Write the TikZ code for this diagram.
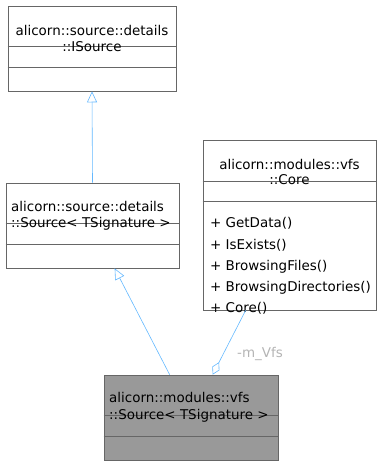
\documentclass[tikz,border=0pt]{standalone}
\usepackage{fontspec}
\setmainfont{DejaVu Sans}
\usetikzlibrary{arrows.meta}

\definecolor{edgeblue}{HTML}{63B8FF}
\definecolor{boxline}{HTML}{666666}
\definecolor{boxfill}{HTML}{999999}
\definecolor{labelgrey}{HTML}{B4B4B4}

\tikzset{
  classbox/.style={rectangle, draw=boxline, line width=0.7pt, inner sep=0pt},
  txt/.style={inner sep=0pt, font=\fontsize{13.45}{15}\selectfont},
  inherit/.style={draw=edgeblue, line width=0.6pt,
    -{Triangle[open, length=11pt, width=10pt, fill=white]}},
  aggr/.style={draw=edgeblue, line width=0.6pt,
    {Diamond[open, length=14pt, width=8pt, fill=white]}-}
}

\begin{document}
\begin{tikzpicture}[x=1pt,y=-1pt]
\useasboundingbox (0,0) rectangle (381,465);

% class boxes
\node[classbox, minimum width=168pt, minimum height=85pt] (isrc) at (92,48.5) {};
\node[classbox, minimum width=173pt, minimum height=85pt] (src) at (92.5,225.5) {};
\node[classbox, minimum width=173pt, minimum height=170pt] (core) at (289.5,225) {};
\node[classbox, fill=boxfill, minimum width=174pt, minimum height=85pt] (vsrc) at (191,417.5) {};

% compartments
\draw[boxline, line width=0.7pt] (isrc.west |- 0,46) -- (isrc.east |- 0,46);
\draw[boxline, line width=0.7pt] (isrc.west |- 0,67) -- (isrc.east |- 0,67);
\draw[boxline, line width=0.7pt] (src.west |- 0,223) -- (src.east |- 0,223);
\draw[boxline, line width=0.7pt] (src.west |- 0,244) -- (src.east |- 0,244);
\draw[boxline, line width=0.7pt] (core.west |- 0,181) -- (core.east |- 0,181);
\draw[boxline, line width=0.7pt] (core.west |- 0,201) -- (core.east |- 0,201);
\draw[boxline, line width=0.7pt] (vsrc.west |- 0,415) -- (vsrc.east |- 0,415);
\draw[boxline, line width=0.7pt] (vsrc.west |- 0,436) -- (vsrc.east |- 0,436);

% names
\node[txt, anchor=mid] (isrcA) at (92,32.7) {alicorn::source::details};
\node[txt, anchor=mid] (isrcB) at (92,48.5) {::ISource};
\node[txt, anchor=mid west] (srcA) at (11,208.3) {alicorn::source::details};
\node[txt, anchor=mid west] (srcB) at (11,225) {::Source< TSignature >};
\node[txt, anchor=mid] (coreA) at (289.5,166.7) {alicorn::modules::vfs};
\node[txt, anchor=mid] (coreB) at (289.5,182) {::Core};
\node[txt, anchor=mid west] (vsrcA) at (109,400) {alicorn::modules::vfs};
\node[txt, anchor=mid west] (vsrcB) at (109,416.7) {::Source< TSignature >};

% members of Core
\node[txt, anchor=mid west] (m1) at (210,225) {+ GetData()};
\node[txt, anchor=mid west] (m2) at (210,246.5) {+ IsExists()};
\node[txt, anchor=mid west] (m3) at (210,268) {+ BrowsingFiles()};
\node[txt, anchor=mid west] (m4) at (210,289) {+ BrowsingDirectories()};
\node[txt, anchor=mid west] (m5) at (210,310) {+ Core()};

% relations
\draw[inherit] (src.north) -- (isrc.south);
\draw[inherit] ([xshift=66pt]vsrc.north west) -- ([xshift=109pt]src.south west);
\draw[aggr] ([xshift=109pt]vsrc.north west) -- ([xshift=43pt]core.south west);
\node[txt, text=labelgrey, anchor=mid] (vfs) at (260,355) {-m\_Vfs};
\end{tikzpicture}
\end{document}
